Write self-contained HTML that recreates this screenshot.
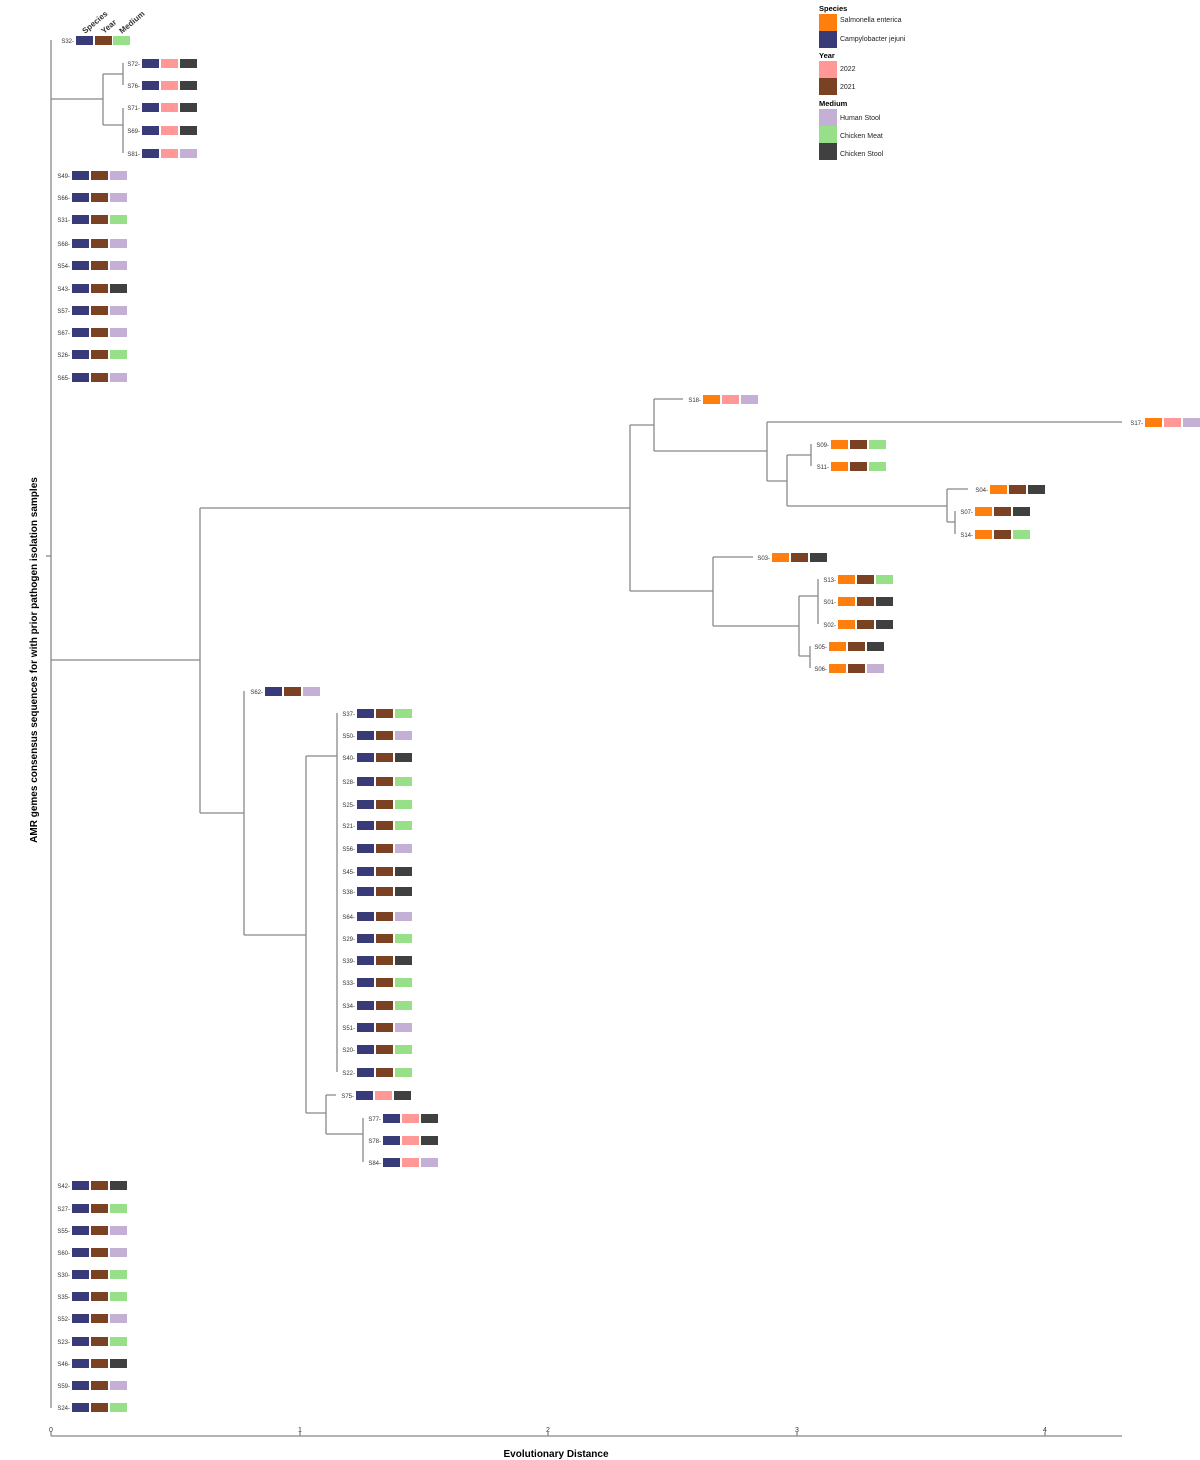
<!DOCTYPE html>
<html><head><meta charset="utf-8"><style>
html,body{margin:0;padding:0;background:#fff;width:1200px;height:1460px;overflow:hidden}
svg text{font-family:"Liberation Sans",sans-serif}
.t{font-size:6px;fill:#333;text-anchor:end}
.l{font-size:7px;fill:#222}
.h{font-size:7.5px;font-weight:bold;fill:#000}
</style></head><body>
<svg width="1200" height="1460" viewBox="0 0 1200 1460" xmlns="http://www.w3.org/2000/svg">
<defs>
<rect id="C" width="17" height="9" fill="#393b79"/>
<rect id="S" width="17" height="9" fill="#ff7f0e"/>
<rect id="P" width="17" height="9" fill="#ff9896"/>
<rect id="B" width="17" height="9" fill="#7b4123"/>
<rect id="H" width="17" height="9" fill="#c5b0d5"/>
<rect id="M" width="17" height="9" fill="#98df8a"/>
<rect id="K" width="17" height="9" fill="#404040"/>
</defs>
<g stroke="#888" stroke-width="1.3" fill="none">
<path d="M51 40V1408"/>
<path d="M46 556H51"/>
<path d="M51 99H103M103 74V125M103 74H123M123 63V85M103 125H123M123 108V153"/>
<path d="M51 660H200M200 508V813"/>
<path d="M200 508H630M630 425V591M630 425H654M654 399V451M654 399H683M654 451H767M767 422V481M767 422H1122M767 481H787M787 455V506M787 455H811M811 444V466M787 506H947M947 489V522M947 489H968M947 522H955M955 511V534"/>
<path d="M630 591H713M713 557V626M713 557H753M713 626H799M799 596V656M799 596H818M818 579V624M799 656H810M810 646V668"/>
<path d="M200 813H244M244 691V935M244 935H306M306 756V1113M306 756H337M337 713V1072M306 1113H326M326 1095V1134M326 1095H336M326 1134H363M363 1118V1162"/>
<path d="M51 1436H1122M51 1436V1432M300 1436V1432M548 1436V1432M797 1436V1432M1045 1436V1432"/>
</g>
<g font-size="7" fill="#333" text-anchor="middle" font-family="Liberation Sans,sans-serif">
<text x="51" y="1432">0</text><text x="300" y="1432">1</text><text x="548" y="1432">2</text><text x="797" y="1432">3</text><text x="1045" y="1432">4</text>
</g>
<text x="556" y="1457" text-anchor="middle" style="font-size:10px;font-weight:bold">Evolutionary Distance</text>
<text transform="translate(37,660) rotate(-90)" text-anchor="middle" style="font-size:10px;font-weight:bold">AMR gemes consensus sequences for with prior pathogen isolation samples</text>
<g style="font-size:8px;font-weight:bold;fill:#333">
<text transform="translate(85,34) rotate(-40)">Species</text>
<text transform="translate(104,34) rotate(-40)">Year</text>
<text transform="translate(122,34) rotate(-40)">Medium</text>
</g>
<text class="h" x="819" y="11">Species</text>
<rect x="819" y="14" width="18" height="17" fill="#ff7f0e"/>
<rect x="819" y="31" width="18" height="17" fill="#393b79"/>
<text class="l" x="840" y="22">Salmonella enterica</text>
<text class="l" x="840" y="41">Campylobacter jejuni</text>
<text class="h" x="819" y="58">Year</text>
<rect x="819" y="61" width="18" height="17" fill="#ff9896"/>
<rect x="819" y="78" width="18" height="17" fill="#7b4123"/>
<text class="l" x="840" y="71">2022</text>
<text class="l" x="840" y="89">2021</text>
<text class="h" x="819" y="106">Medium</text>
<rect x="819" y="109" width="18" height="17" fill="#c5b0d5"/>
<rect x="819" y="126" width="18" height="17" fill="#98df8a"/>
<rect x="819" y="143" width="18" height="17" fill="#404040"/>
<text class="l" x="840" y="120">Human Stool</text>
<text class="l" x="840" y="138">Chicken Meat</text>
<text class="l" x="840" y="156">Chicken Stool</text>

<text class="t" x="74" y="43">S32-</text><use href="#C" x="76" y="36"/><use href="#B" x="95" y="36"/><use href="#M" x="113" y="36"/>
<text class="t" x="140" y="66">S72-</text><use href="#C" x="142" y="59"/><use href="#P" x="161" y="59"/><use href="#K" x="180" y="59"/>
<text class="t" x="140" y="88">S76-</text><use href="#C" x="142" y="81"/><use href="#P" x="161" y="81"/><use href="#K" x="180" y="81"/>
<text class="t" x="140" y="110">S71-</text><use href="#C" x="142" y="103"/><use href="#P" x="161" y="103"/><use href="#K" x="180" y="103"/>
<text class="t" x="140" y="133">S69-</text><use href="#C" x="142" y="126"/><use href="#P" x="161" y="126"/><use href="#K" x="180" y="126"/>
<text class="t" x="140" y="156">S81-</text><use href="#C" x="142" y="149"/><use href="#P" x="161" y="149"/><use href="#H" x="180" y="149"/>
<g>
<text class="t" x="70" y="178">S49-</text><use href="#C" x="72" y="171"/><use href="#B" x="91" y="171"/><use href="#H" x="110" y="171"/>
<text class="t" x="70" y="200">S66-</text><use href="#C" x="72" y="193"/><use href="#B" x="91" y="193"/><use href="#H" x="110" y="193"/>
<text class="t" x="70" y="222">S31-</text><use href="#C" x="72" y="215"/><use href="#B" x="91" y="215"/><use href="#M" x="110" y="215"/>
<text class="t" x="70" y="246">S68-</text><use href="#C" x="72" y="239"/><use href="#B" x="91" y="239"/><use href="#H" x="110" y="239"/>
<text class="t" x="70" y="268">S54-</text><use href="#C" x="72" y="261"/><use href="#B" x="91" y="261"/><use href="#H" x="110" y="261"/>
<text class="t" x="70" y="291">S43-</text><use href="#C" x="72" y="284"/><use href="#B" x="91" y="284"/><use href="#K" x="110" y="284"/>
<text class="t" x="70" y="313">S57-</text><use href="#C" x="72" y="306"/><use href="#B" x="91" y="306"/><use href="#H" x="110" y="306"/>
<text class="t" x="70" y="335">S67-</text><use href="#C" x="72" y="328"/><use href="#B" x="91" y="328"/><use href="#H" x="110" y="328"/>
<text class="t" x="70" y="357">S26-</text><use href="#C" x="72" y="350"/><use href="#B" x="91" y="350"/><use href="#M" x="110" y="350"/>
<text class="t" x="70" y="380">S65-</text><use href="#C" x="72" y="373"/><use href="#B" x="91" y="373"/><use href="#H" x="110" y="373"/>
</g>
<g>
<text class="t" x="70" y="1188">S42-</text><use href="#C" x="72" y="1181"/><use href="#B" x="91" y="1181"/><use href="#K" x="110" y="1181"/>
<text class="t" x="70" y="1211">S27-</text><use href="#C" x="72" y="1204"/><use href="#B" x="91" y="1204"/><use href="#M" x="110" y="1204"/>
<text class="t" x="70" y="1233">S55-</text><use href="#C" x="72" y="1226"/><use href="#B" x="91" y="1226"/><use href="#H" x="110" y="1226"/>
<text class="t" x="70" y="1255">S60-</text><use href="#C" x="72" y="1248"/><use href="#B" x="91" y="1248"/><use href="#H" x="110" y="1248"/>
<text class="t" x="70" y="1277">S30-</text><use href="#C" x="72" y="1270"/><use href="#B" x="91" y="1270"/><use href="#M" x="110" y="1270"/>
<text class="t" x="70" y="1299">S35-</text><use href="#C" x="72" y="1292"/><use href="#B" x="91" y="1292"/><use href="#M" x="110" y="1292"/>
<text class="t" x="70" y="1321">S52-</text><use href="#C" x="72" y="1314"/><use href="#B" x="91" y="1314"/><use href="#H" x="110" y="1314"/>
<text class="t" x="70" y="1344">S23-</text><use href="#C" x="72" y="1337"/><use href="#B" x="91" y="1337"/><use href="#M" x="110" y="1337"/>
<text class="t" x="70" y="1366">S46-</text><use href="#C" x="72" y="1359"/><use href="#B" x="91" y="1359"/><use href="#K" x="110" y="1359"/>
<text class="t" x="70" y="1388">S59-</text><use href="#C" x="72" y="1381"/><use href="#B" x="91" y="1381"/><use href="#H" x="110" y="1381"/>
<text class="t" x="70" y="1410">S24-</text><use href="#C" x="72" y="1403"/><use href="#B" x="91" y="1403"/><use href="#M" x="110" y="1403"/>
</g>
<text class="t" x="701" y="402">S18-</text><use href="#S" x="703" y="395"/><use href="#P" x="722" y="395"/><use href="#H" x="741" y="395"/>
<text class="t" x="1143" y="425">S17-</text><use href="#S" x="1145" y="418"/><use href="#P" x="1164" y="418"/><use href="#H" x="1183" y="418"/>
<text class="t" x="829" y="447">S09-</text><use href="#S" x="831" y="440"/><use href="#B" x="850" y="440"/><use href="#M" x="869" y="440"/>
<text class="t" x="829" y="469">S11-</text><use href="#S" x="831" y="462"/><use href="#B" x="850" y="462"/><use href="#M" x="869" y="462"/>
<text class="t" x="988" y="492">S04-</text><use href="#S" x="990" y="485"/><use href="#B" x="1009" y="485"/><use href="#K" x="1028" y="485"/>
<text class="t" x="973" y="514">S07-</text><use href="#S" x="975" y="507"/><use href="#B" x="994" y="507"/><use href="#K" x="1013" y="507"/>
<text class="t" x="973" y="537">S14-</text><use href="#S" x="975" y="530"/><use href="#B" x="994" y="530"/><use href="#M" x="1013" y="530"/>
<text class="t" x="770" y="560">S03-</text><use href="#S" x="772" y="553"/><use href="#B" x="791" y="553"/><use href="#K" x="810" y="553"/>
<text class="t" x="836" y="582">S13-</text><use href="#S" x="838" y="575"/><use href="#B" x="857" y="575"/><use href="#M" x="876" y="575"/>
<text class="t" x="836" y="604">S01-</text><use href="#S" x="838" y="597"/><use href="#B" x="857" y="597"/><use href="#K" x="876" y="597"/>
<text class="t" x="836" y="627">S02-</text><use href="#S" x="838" y="620"/><use href="#B" x="857" y="620"/><use href="#K" x="876" y="620"/>
<text class="t" x="827" y="649">S05-</text><use href="#S" x="829" y="642"/><use href="#B" x="848" y="642"/><use href="#K" x="867" y="642"/>
<text class="t" x="827" y="671">S06-</text><use href="#S" x="829" y="664"/><use href="#B" x="848" y="664"/><use href="#H" x="867" y="664"/>
<text class="t" x="263" y="694">S62-</text><use href="#C" x="265" y="687"/><use href="#B" x="284" y="687"/><use href="#H" x="303" y="687"/>
<g>
<text class="t" x="355" y="716">S37-</text><use href="#C" x="357" y="709"/><use href="#B" x="376" y="709"/><use href="#M" x="395" y="709"/>
<text class="t" x="355" y="738">S50-</text><use href="#C" x="357" y="731"/><use href="#B" x="376" y="731"/><use href="#H" x="395" y="731"/>
<text class="t" x="355" y="760">S40-</text><use href="#C" x="357" y="753"/><use href="#B" x="376" y="753"/><use href="#K" x="395" y="753"/>
<text class="t" x="355" y="784">S28-</text><use href="#C" x="357" y="777"/><use href="#B" x="376" y="777"/><use href="#M" x="395" y="777"/>
<text class="t" x="355" y="807">S25-</text><use href="#C" x="357" y="800"/><use href="#B" x="376" y="800"/><use href="#M" x="395" y="800"/>
<text class="t" x="355" y="828">S21-</text><use href="#C" x="357" y="821"/><use href="#B" x="376" y="821"/><use href="#M" x="395" y="821"/>
<text class="t" x="355" y="851">S56-</text><use href="#C" x="357" y="844"/><use href="#B" x="376" y="844"/><use href="#H" x="395" y="844"/>
<text class="t" x="355" y="874">S45-</text><use href="#C" x="357" y="867"/><use href="#B" x="376" y="867"/><use href="#K" x="395" y="867"/>
<text class="t" x="355" y="894">S38-</text><use href="#C" x="357" y="887"/><use href="#B" x="376" y="887"/><use href="#K" x="395" y="887"/>
<text class="t" x="355" y="919">S64-</text><use href="#C" x="357" y="912"/><use href="#B" x="376" y="912"/><use href="#H" x="395" y="912"/>
<text class="t" x="355" y="941">S29-</text><use href="#C" x="357" y="934"/><use href="#B" x="376" y="934"/><use href="#M" x="395" y="934"/>
<text class="t" x="355" y="963">S39-</text><use href="#C" x="357" y="956"/><use href="#B" x="376" y="956"/><use href="#K" x="395" y="956"/>
<text class="t" x="355" y="985">S33-</text><use href="#C" x="357" y="978"/><use href="#B" x="376" y="978"/><use href="#M" x="395" y="978"/>
<text class="t" x="355" y="1008">S34-</text><use href="#C" x="357" y="1001"/><use href="#B" x="376" y="1001"/><use href="#M" x="395" y="1001"/>
<text class="t" x="355" y="1030">S51-</text><use href="#C" x="357" y="1023"/><use href="#B" x="376" y="1023"/><use href="#H" x="395" y="1023"/>
<text class="t" x="355" y="1052">S20-</text><use href="#C" x="357" y="1045"/><use href="#B" x="376" y="1045"/><use href="#M" x="395" y="1045"/>
<text class="t" x="355" y="1075">S22-</text><use href="#C" x="357" y="1068"/><use href="#B" x="376" y="1068"/><use href="#M" x="395" y="1068"/>
</g>
<text class="t" x="354" y="1098">S75-</text><use href="#C" x="356" y="1091"/><use href="#P" x="375" y="1091"/><use href="#K" x="394" y="1091"/>
<text class="t" x="381" y="1121">S77-</text><use href="#C" x="383" y="1114"/><use href="#P" x="402" y="1114"/><use href="#K" x="421" y="1114"/>
<text class="t" x="381" y="1143">S78-</text><use href="#C" x="383" y="1136"/><use href="#P" x="402" y="1136"/><use href="#K" x="421" y="1136"/>
<text class="t" x="381" y="1165">S84-</text><use href="#C" x="383" y="1158"/><use href="#P" x="402" y="1158"/><use href="#H" x="421" y="1158"/>
</svg>
</body></html>
